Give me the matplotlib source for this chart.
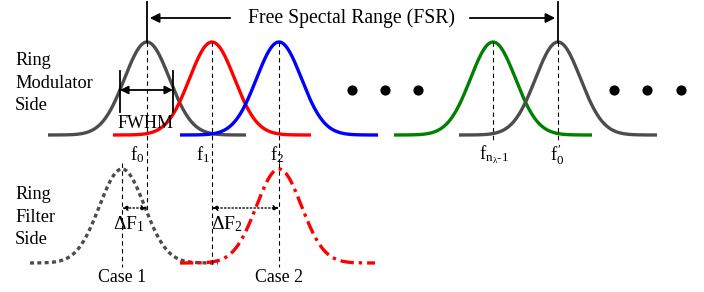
import numpy as np
import matplotlib.pyplot as plt

plt.rcParams['font.family'] = ['Liberation Serif', 'DejaVu Serif']
plt.rcParams['mathtext.fontset'] = 'stix'

# top (ring modulator side) resonances, x positions in pixel units
mod_centers = [147, 212, 279, 493, 558]
mod_colors = ['#4d4d4d', 'red', 'blue', 'green', '#4d4d4d']
mod_labels = [r'$\mathregular{f_0}$', r'$\mathregular{f_1}$', r'$\mathregular{f_2}$',
              r'$\mathregular{f_{n_\lambda\text{-}1}}$', r"$\mathregular{f_0^{\,\prime}}$"]
mod_label_x = [137, 203, 277, 494, 557]

# bottom (ring filter side) resonances
filt_centers = [122, 279]
filt_colors = ['#4d4d4d', 'red']
filt_styles = [(0, (1.2, 1.0)), (0, (4, 1.5, 1, 1.5))]
filt_span = [(30, 218), (180, 375)]
case_labels = ['Case 1', 'Case 2']

dots_x = [352, 385, 418, 614, 647, 681]

sigma = 22.5
top_base, top_peak = 135, 42
bot_base, bot_peak = 263, 169

fig = plt.figure(figsize=(7.04, 2.92), dpi=100)
ax = fig.add_axes([0, 0, 1, 1])
ax.set_xlim(0, 704)
ax.set_ylim(292, 0)
ax.axis('off')

def bump(c, lo, hi, base, peak):
    x = np.linspace(lo, hi, 300)
    y = base - (base - peak) * np.exp(-0.5 * ((x - c) / sigma) ** 2)
    return x, y

for c, col in zip(mod_centers, mod_colors):
    x, y = bump(c, c - 99, c + 99, top_base, top_peak)
    ax.plot(x, y, color=col, lw=2.4, solid_capstyle='butt')
    ax.plot([c, c], [top_peak, 143], color='black', lw=0.8, ls=(0, (4, 3)))

for lab, lx in zip(mod_labels, mod_label_x):
    ax.text(lx, 155, lab, ha='center', va='center', fontsize=13.5)

# FSR arrow
fsr_l, fsr_r = mod_centers[0], mod_centers[-1]
for xv in (fsr_l, fsr_r):
    ax.plot([xv, xv], [2, top_peak], color='black', lw=1.3)
ax.annotate('', xy=(fsr_l, 18), xytext=(233, 18),
            arrowprops=dict(arrowstyle='-|>', color='black', lw=1.3, mutation_scale=14))
ax.annotate('', xy=(fsr_r, 18), xytext=(467, 18),
            arrowprops=dict(arrowstyle='-|>', color='black', lw=1.3, mutation_scale=14))
ax.text(351, 18, 'Free Spectal Range (FSR)', ha='center', va='center', fontsize=14.2)

# FWHM
fw_l, fw_r = 120, 173
for xv in (fw_l, fw_r):
    ax.plot([xv, xv], [71, 112], color='black', lw=1.3)
ax.annotate('', xy=(fw_l, 90), xytext=(fw_r, 90),
            arrowprops=dict(arrowstyle='<|-|>', color='black', lw=1.3, mutation_scale=12,
                            shrinkA=0, shrinkB=0))
ax.text(146, 124, 'FWHM', ha='center', va='center', fontsize=13)

ax.scatter(dots_x, [90] * len(dots_x), s=40, color='black', zorder=5)

# filter side
for c, col, ls, (lo, hi) in zip(filt_centers, filt_colors, filt_styles, filt_span):
    x, y = bump(c, lo, hi, bot_base, bot_peak)
    ax.plot(x, y, color=col, lw=2.4, ls=ls)
    ax.plot([c, c], [163, 267], color='black', lw=0.8, ls=(0, (4, 3)))

ax.plot([mod_centers[0]] * 2, [143, 210], color='black', lw=0.8, ls=(0, (4, 3)))
ax.plot([mod_centers[1]] * 2, [143, 265], color='black', lw=0.8, ls=(0, (4, 3)))
ax.plot([mod_centers[2]] * 2, [143, 167], color='black', lw=0.8, ls=(0, (4, 3)))

for (a, b), lab, lx in [((filt_centers[0], mod_centers[0]), r'$\mathregular{\Delta F_1}$', 129),
                        ((mod_centers[1], filt_centers[1]), r'$\mathregular{\Delta F_2}$', 227)]:
    ax.annotate('', xy=(a, 208), xytext=(b, 208),
                arrowprops=dict(arrowstyle='<|-|>', color='black', lw=1.0, ls=':',
                                mutation_scale=8, shrinkA=0, shrinkB=0))
    ax.text(lx, 224, lab, ha='center', va='center', fontsize=14)

for c, lab in zip(filt_centers, case_labels):
    ax.text(c, 277, lab, ha='center', va='center', fontsize=12.8)

ax.text(15, 83, 'Ring\nModulator\nSide', ha='left', va='center', fontsize=13.2, linespacing=1.45)
ax.text(15, 217, 'Ring\nFilter\nSide', ha='left', va='center', fontsize=13.2, linespacing=1.45)

fig.savefig('out.png', dpi=100)
